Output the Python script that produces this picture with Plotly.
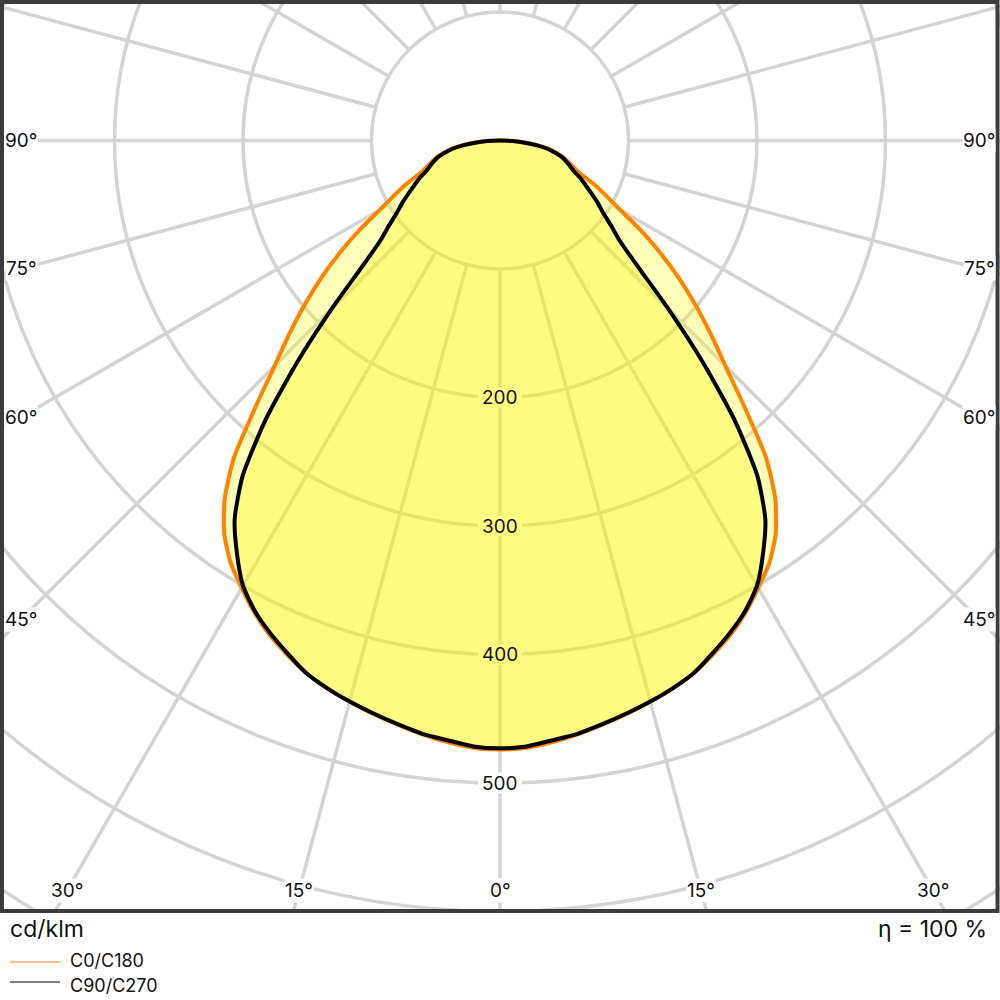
import numpy as np
import plotly.graph_objects as go

# luminous intensity distribution, cd/klm, gamma measured from nadir (symmetric)
gamma = [0, 2.5, 5, 7.5, 10, 12.5, 15, 17.5, 20, 22.5, 25, 27.5, 30, 32.5, 35, 37.5,
         40, 42.5, 45, 47.5, 50, 52.5, 55, 57.5, 60, 62.5, 65, 67.5, 70, 72.5, 75,
         77.5, 80, 82.5, 85, 87.5, 90]
c0_c180 = [474, 473, 470, 466, 461.5, 457, 452, 447, 441, 433, 424.5, 414, 402,
           390, 374, 352, 322, 282, 248, 222, 198, 175, 152, 130, 108, 93, 81, 68, 61,
           56, 51, 45, 39, 30, 20, 10, 0]
c90_c270 = [473, 472, 468.5, 465.5, 461, 456.5, 452, 447, 441, 432, 423, 413, 400,
            381, 360, 329, 284, 233, 185, 146, 122, 109, 98, 90, 82, 75, 69, 62, 58,
            54, 50, 44, 38, 29, 19.5, 10, 0]

radial_ticks = [100, 200, 300, 400, 500, 600, 700]
radial_labels = [200, 300, 400, 500]
spoke_angles = list(range(0, 360, 15))
side_labels = [45, 60, 75, 90]
bottom_labels = [0, 15, 30]

FONT = "Inter"
GRID = "#d4d4d4"
SCALE = 1.285          # px per cd/klm
CY = 140.5             # centre, px from top
PLOT_H = 912


def outline(g, r):
    g = np.radians(np.array(g, dtype=float))
    r = np.array(r, dtype=float)
    th = np.concatenate([-g[::-1], g[1:]])
    rr = np.concatenate([r[::-1], r[1:]])
    return rr * np.sin(th), -rr * np.cos(th)


fig = go.Figure()

for vals, line_col, fill_col in [(c0_c180, "#ff8200", "rgba(255,255,0,0.27)"),
                                 (c90_c270, "#000000", "rgba(255,245,0,0.30)")]:
    x, y = outline(gamma, vals)
    fig.add_trace(go.Scatter(x=x, y=y, mode="lines", fill="toself", fillcolor=fill_col,
                             line=dict(color=line_col, width=4, shape="spline",
                                       smoothing=0.6),
                             hoverinfo="skip", showlegend=False))

# grid below the curves
for r in radial_ticks:
    fig.add_shape(type="circle", x0=-r, x1=r, y0=-r, y1=r, layer="below",
                  line=dict(color=GRID, width=3.5))
for a in spoke_angles:
    t = np.radians(a)
    fig.add_shape(type="line", layer="below",
                  x0=100 * np.sin(t), y0=-100 * np.cos(t),
                  x1=1000 * np.sin(t), y1=-1000 * np.cos(t),
                  line=dict(color=GRID, width=3.5))
# white boxes behind the radial labels (under the translucent fill)
for v in radial_labels:
    fig.add_shape(type="rect", layer="below", x0=-17, x1=17, y0=-v - 8, y1=-v + 8,
                  fillcolor="white", line=dict(width=0))
    fig.add_annotation(x=0, y=-v, text=str(v), showarrow=False,
                       font=dict(family=FONT, size=19, color="#111"))

xr = 500 / SCALE
y_top = CY / SCALE
y_bot = -(PLOT_H - CY) / SCALE
x_lab = 479 / SCALE
y_lab = -(890 - CY) / SCALE

for a in side_labels:
    yy = -x_lab / np.tan(np.radians(a))
    for sgn in (-1, 1):
        fig.add_annotation(x=sgn * x_lab, y=yy, text=f"{a}°", showarrow=False,
                           bgcolor="white", borderpad=0,
                           font=dict(family=FONT, size=19, color="#111"))
for a in bottom_labels:
    xx = -y_lab * np.tan(np.radians(a))
    for sgn in ((1,) if a == 0 else (-1, 1)):
        fig.add_annotation(x=sgn * xx, y=y_lab, text=f"{a}°", showarrow=False,
                           bgcolor="white", borderpad=0,
                           font=dict(family=FONT, size=19, color="#111"))

# frame
fig.add_shape(type="rect", xref="paper", yref="paper", x0=0.002, x1=0.9975,
              y0=0.089, y1=0.998, line=dict(color="#3c3c3c", width=4))

# footer texts and legend
fig.add_annotation(xref="paper", yref="paper", x=0.008, y=1 - 0.929, text="cd/klm",
                   showarrow=False, xanchor="left", yanchor="middle",
                   font=dict(family=FONT, size=23, color="#111"))
fig.add_annotation(xref="paper", yref="paper", x=0.989, y=1 - 0.929, text="η = 100 %",
                   showarrow=False, xanchor="right", yanchor="middle",
                   font=dict(family=FONT, size=23, color="#111"))
for ypx, ytxt, col, name in [(962, 960, "#f2c08e", "C0/C180"),
                             (982, 985, "#808080", "C90/C270")]:
    fig.add_shape(type="line", xref="paper", yref="paper", x0=0.010, x1=0.060,
                  y0=1 - ypx / 1000, y1=1 - ypx / 1000, line=dict(color=col, width=2))
    fig.add_annotation(xref="paper", yref="paper", x=0.069, y=1 - ytxt / 1000, text=name,
                       showarrow=False, xanchor="left", yanchor="middle", borderpad=0,
                       font=dict(family=FONT, size=18, color="#111"))

fig.update_xaxes(range=[-xr, xr], domain=[0, 1], visible=False, fixedrange=True)
fig.update_yaxes(range=[y_bot, y_top], domain=[1 - PLOT_H / 1000, 1], visible=False,
                 fixedrange=True)
fig.update_layout(width=1000, height=1000, margin=dict(l=0, r=0, t=0, b=0),
                  plot_bgcolor="white", paper_bgcolor="white", showlegend=False)

fig.write_html("out.html", config={"displayModeBar": False},
               post_script="document.body.style.margin='0';"
                           "document.body.style.overflow='hidden';")
